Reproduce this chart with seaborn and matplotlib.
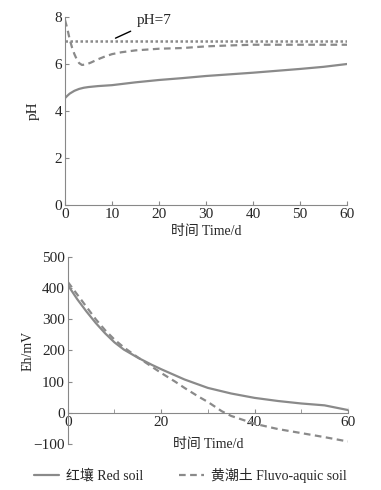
import matplotlib
matplotlib.use("Agg")
import matplotlib.pyplot as plt
import seaborn as sns

# pH data
t_ph_red = [0, 0.5, 1, 2, 3, 4, 5, 7, 10, 15, 20, 25, 30, 35, 40, 45, 50, 55, 60]
ph_red = [4.55, 4.65, 4.74, 4.86, 4.94, 4.99, 5.02, 5.06, 5.1, 5.22, 5.32, 5.4, 5.49, 5.56, 5.63, 5.71, 5.79, 5.88, 6.0]
t_ph_fluvo = [0, 0.5, 1, 1.5, 2, 2.5, 3, 3.6, 4.5, 5.5, 7, 8.5, 10, 12, 15, 20, 25, 30, 35, 40, 50, 60]
ph_fluvo = [7.87, 7.5, 7.05, 6.7, 6.42, 6.2, 6.04, 5.96, 5.98, 6.06, 6.2, 6.32, 6.42, 6.5, 6.58, 6.65, 6.68, 6.75, 6.79, 6.82, 6.82, 6.82]
ph_ref = 7

# Eh data
t_eh_red = [0, 2, 4, 6, 8, 10, 12, 15, 18, 20, 25, 30, 35, 40, 45, 50, 55, 60, 60]
eh_red = [410, 365, 325, 288, 255, 226, 203, 177, 154, 140, 107, 80, 62, 48, 38, 30, 24, 18, 0]
t_eh_fluvo = [0, 2, 4, 6, 8, 10, 12, 15, 18, 20, 23, 25, 28, 30, 33, 35, 40, 45, 50, 55, 60]
eh_fluvo = [420, 380, 340, 300, 265, 235, 210, 178, 148, 128, 100, 80, 52, 35, 5, -10, -35, -52, -65, -78, -92]

labels = ["红壤 Red soil", "黄潮土 Fluvo-aquic soil"]

sns.set_style("ticks")
plt.rcParams["font.family"] = ["Liberation Serif", "Noto Sans CJK SC"]
plt.rcParams["axes.edgecolor"] = "#888888"
gray = "#8a8a8a"
dash = (0, (3, 2))

fig = plt.figure(figsize=(3.81, 4.90), dpi=100)

# ---- pH panel
ax1 = fig.add_axes([0.1706, 0.5816, 0.7404, 0.3837])
sns.lineplot(x=t_ph_red, y=ph_red, ax=ax1, color=gray, linewidth=1.6)
sns.lineplot(x=t_ph_fluvo, y=ph_fluvo, ax=ax1, color=gray, linewidth=1.6, linestyle=dash)
ax1.axhline(ph_ref, color=gray, linewidth=1.8, linestyle=(0, (1, 1)))
ax1.annotate("pH=7", xy=(10.2, 7.05), xytext=(15.2, 7.7), fontsize=11,
             arrowprops=dict(arrowstyle="-", color="black", linewidth=1))
ax1.set_xlim(0, 60)
ax1.set_ylim(0, 8)
ax1.set_xticks(range(0, 61, 10))
ax1.set_yticks([0, 2, 4, 6, 8])
ax1.set_xlabel("时间 Time/d", fontsize=10, labelpad=3)
ax1.set_ylabel("pH", fontsize=11)
ax1.yaxis.set_label_coords(-0.089, 0.5)
ax1.tick_params(direction="in", length=3, labelsize=11, pad=2, color=gray)
sns.despine(ax=ax1)

# ---- Eh panel
ax2 = fig.add_axes([0.178, 0.0939, 0.735, 0.3816])
sns.lineplot(x=t_eh_red, y=eh_red, ax=ax2, color=gray, linewidth=1.6, sort=False)
sns.lineplot(x=t_eh_fluvo, y=eh_fluvo, ax=ax2, color=gray, linewidth=1.6, linestyle=dash)
ax2.set_xlim(0, 60)
ax2.set_ylim(-100, 500)
ax2.set_xticks([0, 20, 40, 60])
ax2.set_xticks([10, 30, 50], minor=True)
ax2.set_yticks(range(-100, 501, 100))
ax2.set_yticklabels(["−100", "0", "100", "200", "300", "400", "500"])
ax2.spines["bottom"].set_position(("data", 0))
ax2.set_xlabel("时间 Time/d", fontsize=10, labelpad=7)
ax2.set_ylabel("Eh/mV", fontsize=10)
ax2.yaxis.set_label_coords(-0.118, 0.5)
ax2.tick_params(direction="in", length=3, labelsize=11, pad=2, color=gray)
ax2.tick_params(which="minor", direction="in", length=3, color=gray)
sns.despine(ax=ax2)

handles = [plt.Line2D([], [], color=gray, linewidth=1.6),
           plt.Line2D([], [], color=gray, linewidth=1.6, linestyle=dash)]
fig.legend(handles, labels, loc="center", bbox_to_anchor=(0.5, 0.03), ncol=2,
           frameon=False, fontsize=10, handlelength=1.8, columnspacing=2.6, handletextpad=0.5)

fig.savefig("out.png", dpi=100)
